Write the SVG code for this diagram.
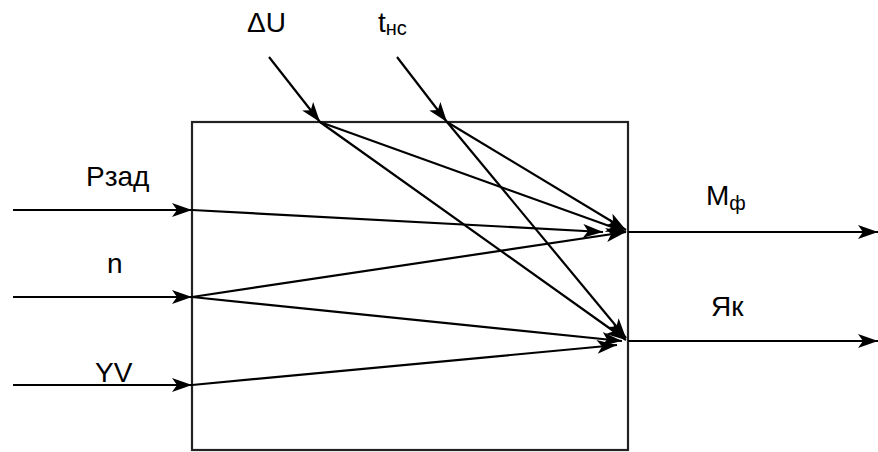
<svg xmlns="http://www.w3.org/2000/svg" width="878" height="452" viewBox="0 0 878 452">
  <defs>
    <marker id="arrow" markerUnits="userSpaceOnUse" markerWidth="22" markerHeight="16" refX="20" refY="7" orient="auto">
      <path d="M0,0 L20,7 L0,14 L5,7 Z" fill="#000"/>
    </marker>
  </defs>
  <style>
    .lbl { font-family: "Liberation Sans", Arial, sans-serif; font-size: 28px; fill: #000; }
    .sub { font-size: 20px; }
    .edge { stroke: #000; stroke-width: 2.2; fill: none; marker-end: url(#arrow); }
    .box { stroke: #222; stroke-width: 2.2; fill: #fff; }
  </style>
  <rect width="878" height="452" fill="#fff"/>

  <!-- control object -->
  <g id="block">
    <rect class="box" x="192" y="122" width="436" height="328"/>
  </g>

  <g id="connectors">
    <!-- left inputs -->
    <path class="edge" d="M13,210 H192"/>
    <path class="edge" d="M13,297 H192"/>
    <path class="edge" d="M13,385 H192"/>
    <!-- top inputs -->
    <path class="edge" d="M269,57 L320,122"/>
    <path class="edge" d="M397,57 L447,122"/>
    <!-- outputs -->
    <path class="edge" d="M628,232 H878"/>
    <path class="edge" d="M628,341 H878"/>
    <!-- internal influences -->
    <path class="edge" d="M192,210 L603,232"/>
    <path class="edge" d="M192,297 L626,232"/>
    <path class="edge" d="M192,297 L622,341"/>
    <path class="edge" d="M192,385 L617,345"/>
    <path class="edge" d="M320,122 L626,232"/>
    <path class="edge" d="M320,122 L626,340"/>
    <path class="edge" d="M447,122 L626,230"/>
    <path class="edge" d="M447,122 L626,338"/>
  </g>

  <g id="in-du"><text class="lbl" x="247" y="32">ΔU</text></g>
  <g id="in-tns"><text class="lbl" x="378" y="32">t<tspan class="sub" dy="3">нс</tspan></text></g>
  <g id="in-pzad"><text class="lbl" x="86" y="186">Pзад</text></g>
  <g id="in-n"><text class="lbl" x="107" y="273">n</text></g>
  <g id="in-yv"><text class="lbl" x="95" y="382">YV</text></g>
  <g id="out-mf"><text class="lbl" x="706" y="205">M<tspan class="sub" dy="5">ф</tspan></text></g>
  <g id="out-yak"><text class="lbl" x="711" y="316">Як</text></g>
</svg>
